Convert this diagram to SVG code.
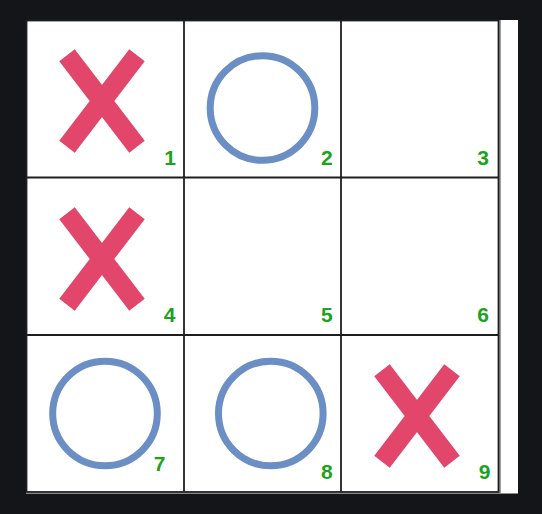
<svg xmlns="http://www.w3.org/2000/svg" xmlns:xlink="http://www.w3.org/1999/xlink" width="542" height="514" viewBox="0 0 542 514">
  <style>
    .grid { stroke: #1e1e1e; stroke-width: 1.8; fill: none; }
    .xm { stroke: #e2466b; stroke-width: 19.5; stroke-linecap: butt; fill: none; }
    .om { stroke: #6b8ec4; stroke-width: 7; fill: none; }
    .num { font-family: "Liberation Sans", Arial, sans-serif; font-weight: bold; font-size: 21px; fill: #1ca31c; text-anchor: end; }
  </style>
  <defs>
    <path id="xshape" class="xm" d="M-35,-45.75 L35,45.75 M35,-45.75 L-35,45.75"/>
  </defs>
  <rect x="0" y="0" width="542" height="514" fill="#131519"/>
  <rect x="26" y="20" width="492" height="473.5" fill="#ffffff"/>
  <rect x="499.5" y="20" width="1" height="473" fill="#3a3c40"/>

  <g id="grid">
    <rect class="grid" x="26.5" y="20.5" width="472" height="471.5"/>
    <line class="grid" x1="184" y1="20" x2="184" y2="492"/>
    <line class="grid" x1="341" y1="20" x2="341" y2="492"/>
    <line class="grid" x1="26" y1="177.5" x2="498.5" y2="177.5"/>
    <line class="grid" x1="26" y1="335" x2="498.5" y2="335"/>
  </g>

  <g id="cell1">
    <use xlink:href="#xshape" href="#xshape" x="102" y="101"/>
    <text class="num" x="176" y="165">1</text>
  </g>
  <g id="cell2">
    <circle class="om" cx="262.5" cy="108" r="52.3"/>
    <text class="num" x="332.6" y="165">2</text>
  </g>
  <g id="cell3">
    <text class="num" x="489" y="165">3</text>
  </g>
  <g id="cell4">
    <use xlink:href="#xshape" href="#xshape" x="102" y="259"/>
    <text class="num" x="175.5" y="321.7">4</text>
  </g>
  <g id="cell5">
    <text class="num" x="332.6" y="321.7">5</text>
  </g>
  <g id="cell6">
    <text class="num" x="489" y="321.7">6</text>
  </g>
  <g id="cell7">
    <circle class="om" cx="105" cy="413.5" r="52.3"/>
    <text class="num" x="165.5" y="470.6">7</text>
  </g>
  <g id="cell8">
    <circle class="om" cx="270.8" cy="413.5" r="52.3"/>
    <text class="num" x="332.6" y="479.3">8</text>
  </g>
  <g id="cell9">
    <use xlink:href="#xshape" href="#xshape" x="417" y="416"/>
    <text class="num" x="490.5" y="479.3">9</text>
  </g>
  <g id="connectors"/>
</svg>
